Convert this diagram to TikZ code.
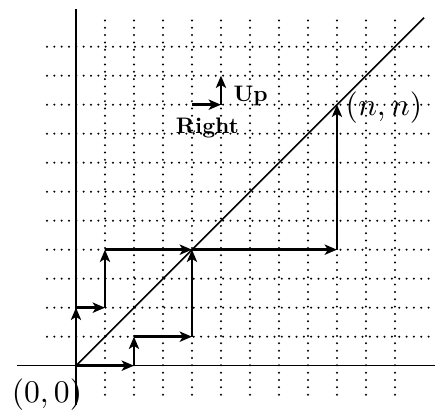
\documentclass[tikz,border=0pt]{standalone}
\usetikzlibrary{arrows.meta}
\begin{document}
\begin{tikzpicture}[x=0.5cm,y=0.5cm,
  gridline/.style={line width=1.1pt, line cap=round, dash pattern=on 0pt off 3.6pt},
  axisline/.style={line width=0.8pt},
  walk/.style={line width=1.25pt, -{Stealth[length=6pt,width=5pt,inset=1.5pt]}},
  biglabel/.style={inner sep=0pt, scale=1.55},
  boldlabel/.style={inner sep=0pt, scale=1.1, font=\bfseries}]
\useasboundingbox (-2.62,-1.6) rectangle (12.38,12.61);
% dotted grid
\foreach \i in {1,...,11} \draw[gridline] (\i,-1) -- (\i,12);
\foreach \j in {1,...,11} \draw[gridline] (-1,\j) -- (12.25,\j);
% axes and diagonal
\coordinate (O) at (0,0);
\coordinate (xl) at (-2.05,0);
\coordinate (xr) at (12.38,0);
\coordinate (yb) at (0,-1.36);
\coordinate (yt) at (0,12.29);
\coordinate (D) at (12,12);
\draw[axisline] (xl) -- (xr);
\draw[axisline] (yb) -- (yt);
\draw[axisline] (O) -- (D);
% upper walk
\coordinate (a1) at (0,2);
\coordinate (a2) at (1,2);
\coordinate (a3) at (1,4);
\coordinate (m) at (4,4);
\coordinate (a5) at (9,4);
\coordinate (N) at (9,9);
\draw[walk] (O) -- (a1);
\draw[walk] (a1) -- (a2);
\draw[walk] (a2) -- (a3);
\draw[walk] (a3) -- (m);
\draw[walk] (m) -- (a5);
\draw[walk] (a5) -- (N);
% lower walk
\coordinate (b1) at (2,0);
\coordinate (b2) at (2,1);
\coordinate (b3) at (4,1);
\draw[walk] (O) -- (b1);
\draw[walk] (b1) -- (b2);
\draw[walk] (b2) -- (b3);
\draw[walk] (b3) -- (m);
% legend
\coordinate (l0) at (4,9);
\coordinate (l1) at (5,9);
\coordinate (l2) at (5,10);
\draw[walk] (l0) -- (l1);
\draw[walk] (l1) -- (l2);
\node[boldlabel, anchor=base west] (up) at (5.42,9.1) {Up};
\node[boldlabel, anchor=base] (right) at (4.53,8.0) {Right};
% labels
\node[biglabel] (origin) at (-1,-0.98) {$(0,0)$};
\node[biglabel, anchor=west] (nn) at (9.28,8.91) {$(n,n)$};
\end{tikzpicture}
\end{document}
